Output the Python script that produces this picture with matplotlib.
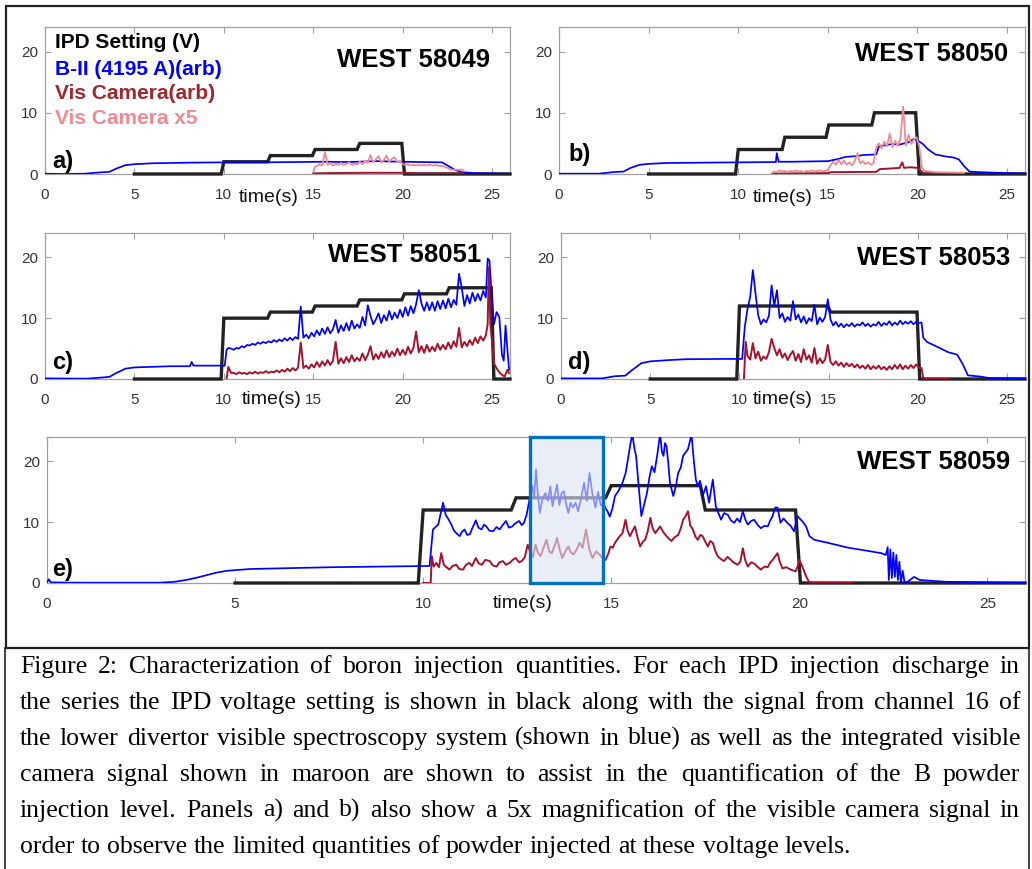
import matplotlib
matplotlib.use("Agg")
import matplotlib.pyplot as plt
from matplotlib.patches import Rectangle
import numpy as np

plt.rcParams["font.family"] = ["Liberation Sans", "DejaVu Sans"]

IPD_COLOR = "#222222"
BII_COLOR = "#0000ff"
CAM_COLOR = "#a2142f"
CAM5_COLOR = "#ee8a92"
AXIS_GRAY = "#a0a0a0"
TICK_TEXT = "#333333"

x_ticks = [0, 5, 10, 15, 20, 25]
y_ticks = [0, 10, 20]
shots = ["WEST 58049", "WEST 58050", "WEST 58051", "WEST 58053", "WEST 58059"]
panel_tags = ["a)", "b)", "c)", "d)", "e)"]
legend_labels = ["IPD Setting (V)", "B-II (4195 A)(arb)", "Vis Camera(arb)", "Vis Camera x5"]

# ---------------- shot 58049 ----------------
a_ipd = [(5, 0), (9.85, 0), (10.0, 2), (12.45, 2), (12.6, 3), (14.95, 3), (15.1, 4),
         (17.45, 4), (17.6, 5), (19.95, 5), (20.1, 0), (26, 0)]
a_bii = [(0, 0.05), (1, 0.0), (2.2, 0.05), (3.0, 0.25), (3.6, 0.35), (4.0, 0.9), (4.5, 1.45),
         (5.0, 1.6), (6.0, 1.75), (8, 1.85), (10, 1.9), (12, 1.9), (14, 1.95), (15.5, 2.0),
         (17, 1.95), (18.5, 2.1), (20, 2.0), (21, 1.95), (22.2, 1.9), (22.5, 1.4), (22.9, 0.7),
         (23.3, 0.3), (24, 0.15), (26, 0.05)]
a_cam = [(15, 0.1), (16, 0.15), (18, 0.2), (20, 0.2), (21, 0.1), (23.4, 0.1)]
a_cam5_head = [(15.0, 0.3), (15.1, 1.2)]
a_cam5_span = (15.2, 22.25)
a_cam5_noise = [1.3, 1.6, 1.4, 3.6, 1.5, 1.8, 1.4, 1.7, 1.5, 1.8,
                1.5, 1.6, 1.9, 1.5, 1.7, 1.6, 2.0, 1.6, 2.2, 1.8,
                3.1, 1.9, 2.4, 2.9, 1.9, 2.3, 3.0, 2.0, 2.5, 2.7,
                1.9, 2.1, 1.6, 1.5, 1.6, 1.4, 1.5, 1.4, 1.5, 1.4,
                1.5, 1.4, 1.5, 1.4, 1.45, 1.4, 1.3, 1.3]
a_cam5_tail = [(22.5, 1.0), (22.7, 0.7), (23.4, 0.7)]

# ---------------- shot 58050 ----------------
b_ipd = [(5, 0), (9.85, 0), (10.0, 4), (12.45, 4), (12.6, 6), (14.9, 6), (15.05, 8),
         (17.45, 8), (17.6, 10), (19.9, 10), (20.1, 0), (26, 0)]
b_bii = [(0, 0.05), (2.2, 0.05), (3.0, 0.3), (3.6, 0.4), (4.0, 1.0), (4.5, 1.5), (5, 1.65),
         (6, 1.8), (8, 1.85), (10, 1.9), (12.1, 1.95), (12.15, 3.4), (12.25, 2.0), (13, 2.0),
         (14, 2.05), (15, 2.1), (15.5, 2.4), (16, 2.8), (16.5, 2.9), (17, 3.1), (17.7, 3.2),
         (17.85, 4.5), (18.2, 4.7), (18.6, 4.9), (19, 4.8), (19.5, 5.2), (19.8, 5.7),
         (20.0, 5.5), (20.3, 4.9), (20.6, 4.0), (21.0, 3.2), (21.5, 2.9), (22.0, 2.7),
         (22.3, 2.4), (22.6, 1.3), (22.9, 0.4), (23.5, 0.3), (24.5, 0.2), (26, 0.1)]
b_cam = [(11.9, 0.05), (13, 0.1), (15, 0.15), (15.2, 0.3), (17.7, 0.35), (17.9, 0.8),
         (18.5, 0.9), (19.0, 1.0), (19.15, 1.9), (19.25, 1.0), (19.6, 1.1), (20.0, 1.0),
         (20.2, 0.5), (20.35, 0.1), (22.6, 0.05)]
b_cam5_head = [(11.9, 0.2)]
b_cam5_span = (12.0, 20.1)
b_cam5_noise = [0.4, 0.3, 0.6, 0.4, 0.5, 0.3, 0.5, 0.4, 0.6, 0.4,
                0.5, 0.3, 0.5, 0.4, 0.6, 0.4, 0.5, 0.6, 0.4, 0.5, 0.7,
                1.4, 2.0, 1.5, 2.3, 1.6, 2.2, 1.5, 1.9, 1.4, 2.1,
                3.4, 1.7, 2.1, 1.6, 1.9, 1.5, 1.8,
                4.3, 5.0, 4.2, 5.3, 4.5, 6.6, 4.4, 5.4, 4.6, 5.8,
                11.0, 4.6, 6.4, 4.9, 5.6, 6.0, 4.5]
b_cam5_tail = [(20.25, 1.0), (20.4, 0.5), (21, 0.3), (22.6, 0.2)]

# ---------------- shot 58051 ----------------
c_ipd = [(5, 0), (9.85, 0), (10.0, 10), (12.45, 10), (12.6, 11), (14.95, 11), (15.1, 12),
         (17.45, 12), (17.6, 13), (19.95, 13), (20.1, 14), (22.45, 14), (22.6, 15),
         (24.95, 15), (25.1, 0), (26, 0)]
c_bii_head = [(0, 0.1), (2.3, 0.05), (3.0, 0.2), (3.6, 0.35), (4.0, 1.0), (4.5, 1.7),
              (5, 1.9), (6, 2.0), (7, 2.1), (8.1, 2.1), (8.2, 2.8), (8.3, 2.2), (9, 2.2),
              (10.05, 2.2), (10.15, 4.8), (10.25, 5.1)]
c_bii_span = (10.4, 24.65)
c_bii_noise = [5.0, 4.8, 5.1, 5.0, 5.4, 5.2, 5.6, 5.5, 5.8, 5.6,
               6.0, 5.8, 6.1, 5.9, 6.2, 6.0, 6.4, 6.1, 6.5, 6.2,
               6.7, 6.3, 6.8, 6.4, 6.9, 6.6, 11.9, 6.8, 7.3, 6.7,
               7.6, 7.0, 8.0, 7.2, 8.3, 7.4, 8.5, 7.5, 8.2, 9.7,
               7.6, 8.8, 7.9, 9.2, 8.0, 9.6, 8.3, 9.0, 8.4, 10.2,
               8.8, 12.1, 10.4, 9.0, 9.8, 10.8, 9.2, 10.5, 9.6, 11.2,
               9.8, 10.9, 10.0, 11.4, 10.2, 11.8, 10.4, 12.0, 10.8, 12.3,
               14.6, 12.4, 11.2, 12.6, 11.3, 12.6, 11.2, 12.8, 11.5, 12.9,
               11.6, 13.2, 11.8, 13.0, 12.2, 17.3, 15.0, 12.0, 13.8, 12.4,
               14.2, 12.8, 14.0, 12.9, 14.5, 13.4]
c_bii_tail = [(24.75, 19.8), (24.85, 19.5), (24.95, 15), (25.1, 9.0), (25.25, 11.0),
              (25.4, 10.2), (25.55, 4.0), (25.65, 3.0), (25.75, 8.8), (25.85, 5.0),
              (25.95, 1.5)]
c_cam_head = [(10.15, 0), (10.25, 2.0), (10.4, 1.0)]
c_cam_span = (10.55, 24.65)
c_cam_noise = [1.0, 0.8, 1.1, 0.9, 1.0, 0.8, 1.1, 0.9, 1.2, 0.9,
               1.1, 1.0, 1.3, 1.0, 1.2, 1.1, 1.4, 1.1, 1.5, 1.2,
               1.7, 1.3, 1.8, 1.4, 1.9, 6.0, 1.8, 2.2, 1.7, 2.4,
               1.9, 2.8, 2.0, 2.9, 2.2, 3.1, 2.3, 3.0, 6.1, 2.5,
               3.4, 2.6, 3.6, 2.8, 3.9, 2.9, 3.5, 3.0, 4.2, 3.1,
               4.0, 5.4, 3.2, 4.1, 3.3, 4.4, 3.5, 4.7, 3.6, 4.5,
               3.8, 5.0, 3.9, 4.8, 4.0, 5.3, 4.2, 5.1, 7.8, 4.4,
               5.4, 4.3, 5.6, 4.5, 5.3, 4.6, 5.8, 4.8, 5.6, 4.9,
               6.0, 5.0, 6.2, 5.3, 8.4, 5.2, 6.1, 5.4, 6.4, 5.6,
               6.8, 5.9, 7.0, 6.3, 7.2]
c_cam_tail = [(24.75, 9.0), (24.82, 18.4), (24.9, 9.0), (25.0, 6.0), (25.1, 2.6),
              (25.3, 1.5), (25.5, 0.8), (25.7, 0.4), (25.85, 1.5), (25.95, 1.0)]

# ---------------- shot 58053 ----------------
d_ipd = [(5, 0), (9.85, 0), (10.0, 12), (14.95, 12), (15.1, 11), (19.95, 11), (20.1, 0), (26, 0)]
d_bii_head = [(0, 0.1), (2.3, 0.1), (3.0, 0.45), (3.6, 0.55), (4.0, 1.5), (4.5, 2.6),
              (5, 2.9), (6, 3.1), (7, 3.25), (9, 3.3), (10.15, 3.3), (10.3, 8.6)]
d_bii_span = (10.45, 20.05)
d_bii_noise = [11.5, 13.5, 17.9, 14.0, 10.5, 9.0, 9.8, 9.3, 10.4, 15.4,
               12.0, 14.6, 10.0, 10.8, 9.4, 10.2, 9.6, 12.8, 9.8, 10.6,
               9.3, 10.3, 9.1, 10.0, 9.5, 12.2, 9.0, 10.1, 9.4, 10.2,
               13.1, 9.8, 8.8, 9.4, 8.6, 9.1, 8.5, 9.0, 8.7, 9.2,
               8.6, 9.0, 8.8, 9.3, 8.7, 9.1, 8.6, 9.0, 8.8, 9.4,
               8.7, 9.2, 8.9, 9.5, 8.8, 9.3, 8.9, 9.6, 9.0, 9.4,
               9.1, 9.5, 9.0, 9.4, 9.2]
d_bii_tail = [(20.2, 9.3), (20.3, 6.8), (20.5, 6.1), (21.0, 5.4), (21.7, 4.4), (22.2, 4.0),
              (22.5, 2.5), (22.8, 0.6), (23.5, 0.4), (24, 0.15), (26, 0.1)]
d_cam_head = [(10.25, 0), (10.35, 6.1)]
d_cam_span = (10.45, 20.05)
d_cam_noise = [3.8, 3.2, 5.9, 3.4, 4.5, 3.0, 3.7, 3.3, 4.4, 6.6,
               5.1, 3.9, 4.9, 3.5, 4.2, 3.1, 4.0, 4.6, 3.0, 4.1,
               2.8, 4.9, 3.2, 3.9, 2.7, 5.1, 2.5, 3.4, 2.6, 3.2,
               5.6, 2.8, 2.3, 2.9, 2.2, 2.7, 2.0, 2.6, 2.1, 2.5,
               1.9, 2.4, 1.8, 2.2, 1.7, 2.3, 1.6, 2.1, 1.7, 2.2,
               1.6, 2.0, 1.5, 2.1, 1.6, 2.3, 1.7, 2.4, 1.6, 2.2,
               1.7, 2.3, 1.8, 2.4, 1.9]
d_cam_tail = [(20.2, 1.8), (20.3, 0.1), (21.7, 0.0)]

# ---------------- shot 58059 ----------------
e_ipd = [(5, 0), (9.87, 0), (10.0, 12), (12.34, 12), (12.47, 14), (14.85, 14), (15.0, 16),
         (17.37, 16), (17.5, 12), (19.9, 12), (20.03, 0), (26, 0)]
e_bii = [(0, 0.1), (0.05, 0.6), (0.1, 0.1), (1, 0.05), (2, 0.05), (3.0, 0.05), (3.4, 0.2),
         (3.7, 0.5), (4.0, 0.9), (4.25, 1.3), (4.5, 1.7), (4.77, 2.0), (5.4, 2.3), (6.5, 2.45),
         (7.6, 2.6), (9, 2.7), (10.17, 2.8),
         (10.26, 8.8), (10.4, 9.6), (10.53, 13.2), (10.6, 11.2), (10.68, 10.4), (10.75, 9.6),
         (10.82, 8.6), (10.88, 8.2), (10.97, 7.7), (11.03, 8.4), (11.1, 8.8), (11.17, 7.9),
         (11.24, 8.0), (11.3, 8.9), (11.4, 10.3), (11.47, 9.1), (11.55, 8.8), (11.62, 9.6),
         (11.68, 9.3), (11.76, 8.6), (11.86, 8.5), (11.95, 9.2), (12.03, 8.8), (12.1, 9.4),
         (12.2, 10.2), (12.28, 9.1), (12.37, 9.3), (12.45, 9.8), (12.55, 10.2), (12.62, 9.5),
         (12.68, 9.9), (12.75, 11.2), (12.82, 13.5), (12.9, 16.0), (12.95, 14.0), (13.0, 18.7),
         (13.05, 14.5), (13.1, 11.5), (13.17, 13.8), (13.25, 14.8), (13.32, 13.5), (13.38, 15.9),
         (13.44, 12.6), (13.5, 14.5), (13.56, 16.2), (13.62, 12.8), (13.68, 14.8), (13.74, 15.1),
         (13.8, 13.0), (13.86, 11.5), (13.92, 13.2), (13.98, 12.4), (14.05, 13.2), (14.12, 11.8),
         (14.2, 14.0), (14.28, 16.5), (14.35, 13.5), (14.42, 18.1), (14.5, 14.6), (14.58, 12.4),
         (14.65, 15.0), (14.72, 12.8), (14.82, 12.6), (14.9, 11.8), (14.96, 10.9), (15.03, 12.2),
         (15.1, 14.3), (15.2, 15.2), (15.3, 16.5), (15.38, 18.0), (15.43, 19.8), (15.5, 22.5),
         (15.56, 24.5), (15.62, 22.0), (15.66, 20.9), (15.73, 15.9), (15.8, 11.0), (15.88, 13.0),
         (15.95, 14.8), (16.02, 17.5), (16.08, 19.2), (16.15, 18.2), (16.22, 20.9), (16.3, 24.5),
         (16.35, 21.5), (16.39, 20.9), (16.43, 23.0), (16.47, 22.5), (16.52, 19.5), (16.56, 16.5),
         (16.65, 14.3), (16.72, 16.0), (16.78, 18.1), (16.85, 19.0), (16.91, 20.9), (16.98, 21.5),
         (17.04, 22.0), (17.1, 23.5), (17.13, 24.7), (17.17, 22.0), (17.2, 19.8), (17.25, 17.0),
         (17.3, 15.9), (17.36, 16.8), (17.43, 14.3), (17.52, 15.9), (17.6, 13.2), (17.7, 17.0),
         (17.78, 12.6), (17.85, 11.5), (17.92, 10.4), (18.0, 11.5), (18.1, 11.2), (18.18, 10.3),
         (18.27, 9.9), (18.35, 10.6), (18.42, 10.0), (18.5, 11.8), (18.56, 10.5), (18.63, 9.6),
         (18.72, 10.2), (18.8, 10.4), (18.9, 9.5), (18.98, 9.0), (19.07, 9.4), (19.16, 9.3),
         (19.22, 10.2), (19.29, 11.0), (19.36, 12.4), (19.42, 12.4), (19.5, 9.9), (19.58, 10.6),
         (19.68, 9.9), (19.77, 9.4), (19.86, 8.5), (19.95, 11.0), (20.04, 10.4), (20.1, 10.0),
         (20.18, 9.3), (20.27, 7.7), (20.4, 7.1), (20.76, 6.6), (21.3, 5.8), (21.8, 5.3),
         (22.18, 4.9), (22.3, 4.6), (22.35, 5.9), (22.38, 0.5), (22.42, 5.5), (22.46, 0.8),
         (22.5, 5.0), (22.54, 1.0), (22.58, 4.6), (22.62, 0.5), (22.66, 3.5), (22.7, 0.0),
         (22.75, 2.0), (22.8, 0.0), (22.9, 0.3), (23.05, 1.0), (23.2, 0.5), (23.9, 0.2), (26, 0.0)]
e_cam = [(10.0, 0), (10.2, 0), (10.23, 4.4), (10.28, 2.7), (10.35, 3.3), (10.42, 2.6),
         (10.48, 4.9), (10.55, 3.0), (10.6, 2.7), (10.7, 2.2), (10.78, 2.8), (10.88, 3.0),
         (10.96, 2.3), (11.06, 2.2), (11.14, 3.0), (11.23, 3.3), (11.3, 2.8), (11.4, 4.1),
         (11.48, 3.2), (11.56, 3.0), (11.65, 3.8), (11.77, 3.6), (11.85, 2.9), (11.95, 2.7),
         (12.03, 3.4), (12.12, 3.6), (12.2, 3.0), (12.3, 3.3), (12.38, 3.8), (12.46, 4.1),
         (12.55, 3.4), (12.62, 3.6), (12.7, 4.2), (12.78, 6.3), (12.85, 5.0), (12.92, 4.3),
         (12.99, 6.3), (13.05, 5.0), (13.12, 4.4), (13.2, 5.8), (13.28, 7.1), (13.35, 5.2),
         (13.42, 4.9), (13.5, 6.2), (13.56, 7.4), (13.63, 5.5), (13.7, 4.1), (13.78, 5.2),
         (13.86, 6.0), (13.93, 5.0), (14.0, 4.7), (14.08, 5.5), (14.16, 6.6), (14.24, 5.8),
         (14.33, 8.8), (14.42, 5.5), (14.5, 4.1), (14.6, 5.2), (14.7, 4.6), (14.78, 4.0),
         (14.85, 3.8), (14.92, 4.8), (14.98, 6.0), (15.04, 5.8), (15.1, 6.6), (15.2, 7.5),
         (15.3, 8.2), (15.38, 10.4), (15.44, 8.5), (15.5, 7.7), (15.57, 8.6), (15.63, 9.3),
         (15.7, 7.5), (15.77, 6.0), (15.84, 6.8), (15.9, 7.1), (15.97, 8.5), (16.04, 10.7),
         (16.1, 9.0), (16.17, 8.2), (16.24, 8.8), (16.3, 9.3), (16.38, 8.4), (16.47, 7.7),
         (16.53, 7.3), (16.6, 6.9), (16.68, 7.5), (16.78, 7.9), (16.85, 9.0), (16.91, 10.4),
         (16.98, 11.0), (17.04, 11.8), (17.1, 9.5), (17.17, 8.8), (17.24, 7.6), (17.3, 7.1),
         (17.37, 7.9), (17.43, 7.7), (17.5, 6.8), (17.57, 6.0), (17.63, 6.9), (17.7, 6.6),
         (17.77, 5.2), (17.83, 4.4), (17.92, 3.9), (18.0, 3.6), (18.09, 4.3), (18.18, 3.8),
         (18.27, 3.3), (18.36, 3.0), (18.43, 3.5), (18.5, 5.7), (18.56, 3.8), (18.63, 2.7),
         (18.72, 3.4), (18.8, 3.2), (18.9, 2.6), (18.98, 2.2), (19.07, 2.7), (19.16, 2.6),
         (19.22, 3.3), (19.29, 3.8), (19.36, 4.4), (19.42, 4.9), (19.48, 3.5), (19.55, 2.4),
         (19.65, 2.6), (19.77, 2.2), (19.9, 1.9), (19.96, 2.8), (20.0, 3.8), (20.08, 2.7),
         (20.18, 1.1), (20.27, 0.05), (21.4, 0.0)]
e_window = (12.85, 14.77)

caption_lines = [
    "Figure 2: Characterization of boron injection quantities.  For each IPD injection discharge in",
    "the series the IPD voltage setting is shown in black along with the signal from channel 16 of",
    "the lower divertor visible spectroscopy system (shown in blue) as well as the integrated visible",
    "camera signal shown in maroon are shown to assist in the quantification of the B powder",
    "injection level.  Panels a) and b) also show a 5x magnification of the visible camera signal in",
    "order to observe the limited quantities of powder injected at these voltage levels.",
]


def series(head, span=None, noisy=(), tail=()):
    t = [p[0] for p in head]
    v = [p[1] for p in head]
    if span is not None:
        t += list(np.linspace(span[0], span[1], len(noisy)))
        v += list(noisy)
    t += [p[0] for p in tail]
    v += [p[1] for p in tail]
    return np.array(t), np.array(v)


W, H = 1032, 869
fig = plt.figure(figsize=(W / 100, H / 100), dpi=100)


def px_axes(left, top, right, bottom):
    return fig.add_axes([left / W, 1 - bottom / H, (right - left) / W, (bottom - top) / H])


def setup(ax):
    ax.set_xlim(0, 26)
    ax.set_ylim(0, 24)
    ax.set_xticks(x_ticks)
    ax.set_yticks(y_ticks)
    ax.tick_params(direction="in", top=True, right=True, length=4.5, width=0.8,
                   color=AXIS_GRAY, labelcolor=TICK_TEXT, labelsize=11)
    ax.tick_params(axis="x", pad=10)
    ax.tick_params(axis="y", pad=5)
    for s in ax.spines.values():
        s.set_color(AXIS_GRAY)
        s.set_linewidth(0.9)


def draw(ax, ipd, bii, cam, cam5=None):
    t, v = series(ipd)
    ax.plot(t, v, color=IPD_COLOR, lw=2.4, clip_on=False, zorder=3, solid_joinstyle="miter")
    ax.plot(bii[0], bii[1], color=BII_COLOR, lw=1.25, zorder=4)
    ax.plot(cam[0], cam[1], color=CAM_COLOR, lw=1.4, zorder=5)
    if cam5 is not None:
        ax.plot(cam5[0], cam5[1], color=CAM5_COLOR, lw=1.3, zorder=6)


def labels(ax, i, west_xy, tag_xy, time_xy):
    ax.text(*west_xy, shots[i], ha="right", va="baseline", fontsize=18.5, fontweight="bold")
    ax.text(*tag_xy, panel_tags[i], ha="left", va="baseline", fontsize=17, fontweight="bold", zorder=8)
    ax.text(*time_xy, "time(s)", ha="center", va="center", fontsize=14, color="#111111",
            clip_on=False)


ax_a = px_axes(45, 27, 510, 174)
ax_b = px_axes(559, 27, 1025, 174)
ax_c = px_axes(45, 233, 510, 379)
ax_d = px_axes(561, 233, 1025, 379)
ax_e = px_axes(47, 437, 1025, 583)
for ax in (ax_a, ax_b, ax_c, ax_d, ax_e):
    setup(ax)

draw(ax_a, a_ipd, series(a_bii), series(a_cam),
     series(a_cam5_head, a_cam5_span, a_cam5_noise, a_cam5_tail))
draw(ax_b, b_ipd, series(b_bii), series(b_cam),
     series(b_cam5_head, b_cam5_span, b_cam5_noise, b_cam5_tail))
draw(ax_c, c_ipd, series(c_bii_head, c_bii_span, c_bii_noise, c_bii_tail),
     series(c_cam_head, c_cam_span, c_cam_noise, c_cam_tail))
draw(ax_d, d_ipd, series(d_bii_head, d_bii_span, d_bii_noise, d_bii_tail),
     series(d_cam_head, d_cam_span, d_cam_noise, d_cam_tail))
draw(ax_e, e_ipd, series(e_bii), series(e_cam))

labels(ax_a, 0, (24.9, 17.4), (0.4, 1.0), (12.5, -3.8))
labels(ax_b, 1, (25.05, 18.4), (0.55, 2.1), (12.5, -3.8))
labels(ax_c, 2, (24.4, 19.2), (0.4, 1.6), (12.7, -3.4))
labels(ax_d, 3, (25.2, 18.7), (0.4, 1.6), (12.4, -3.4))
labels(ax_e, 4, (25.6, 18.7), (0.13, 1.2), (12.65, -3.3))

# legend written as coloured text in panel a
for label, color, y in zip(legend_labels, ["#000000", BII_COLOR, "#a0282d", CAM5_COLOR],
                           [20.5, 16.1, 12.3, 8.2]):
    ax_a.text(0.56, y, label, color=color, fontsize=15, fontweight="bold", va="baseline")

# shaded window in panel e
ax_e.add_patch(Rectangle((e_window[0], 0), e_window[1] - e_window[0], 24,
                         facecolor="#dce5f1", alpha=0.62, edgecolor="none", zorder=7))
ax_e.add_patch(Rectangle((e_window[0], 0), e_window[1] - e_window[0], 24,
                         facecolor="none", edgecolor="#0072bd", lw=2.4, zorder=8, clip_on=False))

# frames around the plots and the caption
fig.patches.append(Rectangle((6 / W, 1 - 648 / H), 1023 / W, 642 / H, transform=fig.transFigure,
                             fill=False, edgecolor="#222222", lw=1.6))
fig.patches.append(Rectangle((5 / W, -0.01), 1024 / W, 1 - 648 / H + 0.01, transform=fig.transFigure,
                             fill=False, edgecolor="#222222", lw=1.2))

# justified caption
serif = ["Liberation Serif", "DejaVu Serif"]
renderer = fig.canvas.get_renderer()


def width(s, fs):
    t = fig.text(0, 0, s, fontsize=fs, family=serif)
    w = t.get_window_extent(renderer).width
    t.remove()
    return w


left, right = 20, 1020
fs = 18
widest = max(width(line, fs) for line in caption_lines)
fs = min(18.5, fs * (right - left) / widest * 0.995)
space = width("a a", fs) - width("aa", fs)
for i, line in enumerate(caption_lines):
    words = line.split()
    ws = [width(w_, fs) for w_ in words]
    last = i == len(caption_lines) - 1
    gap = space if last else (right - left - sum(ws)) / (len(words) - 1)
    x = left
    y = 673 + 36 * i
    for w_, ww in zip(words, ws):
        fig.text(x / W, 1 - y / H, w_, fontsize=fs, family=serif, va="baseline", color="#000000")
        x += ww + gap

fig.savefig("out.png", dpi=100)
